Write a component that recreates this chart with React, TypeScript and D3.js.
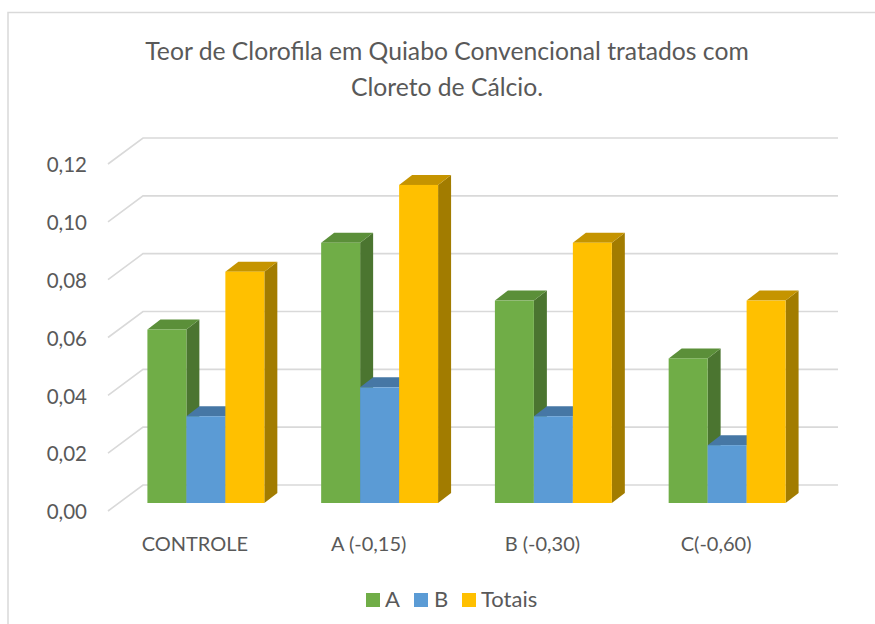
import React from "react";
import * as d3 from "d3";

const categories = ["CONTROLE", "A (-0,15)", "B (-0,30)", "C(-0,60)"];
const series = ["A", "B", "Totais"];
const valuesA = [0.06, 0.09, 0.07, 0.05];
const valuesB = [0.03, 0.04, 0.03, 0.02];
const valuesTotais = [0.08, 0.11, 0.09, 0.07];
const yTicks = [0, 0.02, 0.04, 0.06, 0.08, 0.1, 0.12];
const titleLines = [
  "Teor de Clorofila em Quiabo Convencional tratados com",
  "Cloreto de Cálcio.",
];

const colors = {
  A: { front: "#70AD47", top: "#5B8F39", side: "#4B7530" },
  B: { front: "#5B9BD5", top: "#4677A5", side: "#3E6A93" },
  Totais: { front: "#FFC000", top: "#C59400", side: "#A27C00" },
};

const W = 875;
const H = 624;
const font = "Lato, 'Open Sans', sans-serif";
const textColor = "#595959";
const gridColor = "#D9D9D9";

// 3d geometry: back wall offset and bar placement in depth
const depth = { dx: 35, dy: -26 };
const barShift = { dx: 11, dy: -8 };
const barDepth = { dx: 13, dy: -10 };

export default function App() {
  const data = categories.map((c, i) => ({
    cat: c,
    A: valuesA[i],
    B: valuesB[i],
    Totais: valuesTotais[i],
  }));

  const x = d3.scaleBand<string>().domain(categories).range([108, 803]);
  const bw = x.bandwidth();
  const groupW = bw * 0.673;
  const xInner = d3
    .scaleBand<string>()
    .domain(series)
    .range([(bw - groupW) / 2, (bw + groupW) / 2]);
  const y = d3.scaleLinear().domain([0, 0.12]).range([511, 164]);

  const fmt = (v: number) => d3.format(".2f")(v).replace(".", ",");

  const bars: JSX.Element[] = [];
  data.forEach((d) => {
    series.forEach((s) => {
      const v = (d as any)[s] as number;
      const x0 = (x(d.cat) as number) + (xInner(s) as number) + barShift.dx;
      const x1 = x0 + xInner.bandwidth();
      const yt = y(v) + barShift.dy;
      const yb = y(0) + barShift.dy;
      const col = (colors as any)[s];
      const top = `M${x0},${yt}L${x1},${yt}L${x1 + barDepth.dx},${yt + barDepth.dy}L${x0 + barDepth.dx},${yt + barDepth.dy}Z`;
      const side = `M${x1},${yt}L${x1 + barDepth.dx},${yt + barDepth.dy}L${x1 + barDepth.dx},${yb + barDepth.dy}L${x1},${yb}Z`;
      bars.push(
        <g key={d.cat + s}>
          <path d={side} fill={col.side} />
          <path d={top} fill={col.top} />
          <rect x={x0} y={yt} width={x1 - x0} height={yb - yt} fill={col.front} />
        </g>
      );
    });
  });

  const legendItems = [
    { s: "A", sx: 366, tx: 385 },
    { s: "B", sx: 414, tx: 434 },
    { s: "Totais", sx: 462, tx: 481 },
  ];

  return (
    <svg
      width={W}
      height={H}
      style={{ position: "absolute", left: 0, top: 0, background: "#fff" }}
      fontFamily={font}
    >
      <rect x={8} y={12.5} width={W + 10} height={H + 10} fill="#fff" stroke={gridColor} strokeWidth={1.5} />

      {titleLines.map((t, i) => (
        <text
          key={i}
          x={447}
          y={60 + i * 36}
          textAnchor="middle"
          fontSize={24.7}
          fill={textColor}
        >
          {t}
        </text>
      ))}

      <g>
        {yTicks.map((t) => {
          const yf = y(t);
          return (
            <g key={t}>
              <path
                d={`M${x.range()[0]},${yf}L${x.range()[0] + depth.dx},${yf + depth.dy}L${x.range()[1] + depth.dx},${yf + depth.dy}`}
                fill="none"
                stroke={gridColor}
                strokeWidth={1.6}
              />
              <text x={87} y={yf + 3} textAnchor="end" dominantBaseline="middle" fontSize={20.5} fill={textColor}>
                {fmt(t)}
              </text>
            </g>
          );
        })}
      </g>

      <g>{bars}</g>

      {categories.map((c) => (
        <text
          key={c}
          x={(x(c) as number) + bw / 2}
          y={546}
          textAnchor="middle"
          dominantBaseline="middle"
          fontSize={20}
          fill={textColor}
        >
          {c}
        </text>
      ))}

      {legendItems.map((l) => (
        <g key={l.s}>
          <rect x={l.sx} y={593} width={14} height={14} fill={(colors as any)[l.s].front} />
          <text x={l.tx} y={601} dominantBaseline="middle" fontSize={22} fill={textColor}>
            {l.s}
          </text>
        </g>
      ))}
    </svg>
  );
}
